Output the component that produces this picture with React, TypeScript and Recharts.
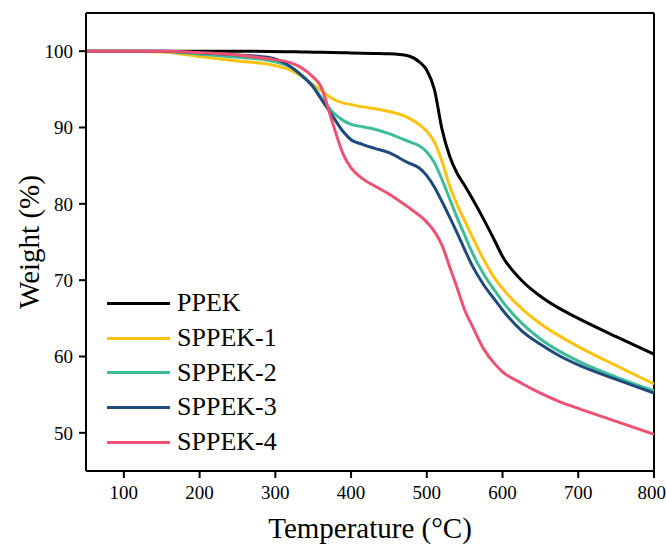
import { LineChart, Line, XAxis, YAxis, ReferenceLine } from "recharts";

const temps = [
  50, 100, 150, 200, 250, 290, 320, 335, 350, 360, 375, 390, 400, 415, 430, 450, 475,
  490, 500, 510, 520, 530, 540, 550, 560, 575, 590, 600, 625, 650, 675, 700, 750, 800,
];

const ppek = [
  100, 100, 100, 100, 100, 99.97, 99.93, 99.9, 99.87, 99.85, 99.82, 99.79, 99.77, 99.74,
  99.71, 99.66, 99.4, 98.6, 97.5, 95.0, 89.8, 86.3, 84.0, 82.4, 80.7, 78.0, 75.1, 73.1,
  70.0, 67.9, 66.3, 65.0, 62.6, 60.3,
];
const sppek1 = [
  100, 100, 99.9, 99.3, 98.7, 98.3, 97.5, 96.7, 95.6, 94.9, 93.8, 93.2, 93.0, 92.7, 92.5,
  92.1, 91.3, 90.4, 89.5, 88.1, 85.6, 82.4, 79.9, 77.8, 75.7, 72.7, 70.2, 68.9, 66.3,
  64.3, 62.7, 61.3, 58.8, 56.4,
];
const sppek2 = [
  100, 100, 99.95, 99.6, 99.2, 98.8, 97.9, 96.8, 95.4, 94.0, 92.1, 90.9, 90.4, 90.1, 89.8,
  89.2, 88.2, 87.6, 86.8, 85.4, 83.2, 80.7, 78.2, 75.9, 73.6, 70.8, 68.6, 67.2, 64.4,
  62.3, 60.7, 59.4, 57.3, 55.5,
];
const sppek3 = [
  100, 100, 100, 99.8, 99.5, 99.2, 98.0, 96.8, 95.3, 93.8, 91.6, 89.4, 88.4, 87.8, 87.3,
  86.7, 85.4, 84.7, 83.7, 82.2, 80.3, 78.3, 76.2, 74.0, 71.9, 69.4, 67.4, 66.1, 63.4,
  61.6, 60.1, 58.9, 57.0, 55.2,
];
const sppek4 = [
  100, 100, 100, 99.8, 99.5, 99.0, 98.5, 97.8, 96.6, 95.4, 90.8, 86.4, 84.7, 83.3, 82.4,
  81.3, 79.6, 78.5, 77.6, 76.4, 74.6, 71.8, 69.0, 66.1, 64.0, 61.0, 59.0, 58.0, 56.5,
  55.2, 54.1, 53.2, 51.5, 49.8,
];

const xTicks = [100, 200, 300, 400, 500, 600, 700, 800];
const yTicks = [50, 60, 70, 80, 90, 100];

const series = [
  { key: "PPEK", values: ppek, color: "#000000" },
  { key: "SPPEK-1", values: sppek1, color: "#FFC20E" },
  { key: "SPPEK-2", values: sppek2, color: "#3CBD98" },
  { key: "SPPEK-3", values: sppek3, color: "#1F4A7C" },
  { key: "SPPEK-4", values: sppek4, color: "#EF5173" },
];

const data = temps.map((t, i) => {
  const row: Record<string, number> = { t };
  series.forEach((s) => (row[s.key] = s.values[i]));
  return row;
});

const font = "'Liberation Serif', 'Times New Roman', serif";

function LegendBox() {
  return (
    <div style={{ position: "absolute", left: 107, top: 286, fontFamily: font }}>
      {series.map((s) => (
        <div
          key={s.key}
          style={{ display: "flex", alignItems: "center", height: 34.7 }}
        >
          <div style={{ width: 63, height: 3, background: s.color }} />
          <span style={{ marginLeft: 7, fontSize: 26, color: "#000", lineHeight: 1 }}>
            {s.key}
          </span>
        </div>
      ))}
    </div>
  );
}

export default function App() {
  const tickStyle = { fill: "#000", fontSize: 19, fontFamily: font };
  const frame = { stroke: "#000", strokeWidth: 2 };
  return (
    <div
      style={{
        position: "absolute",
        left: 0,
        top: 0,
        width: 666,
        height: 545,
        background: "#fff",
      }}
    >
      <LineChart
        width={666}
        height={545}
        data={data}
        margin={{ top: 13, right: 12, bottom: 0, left: 0 }}
      >
        <XAxis
          dataKey="t"
          type="number"
          domain={[50, 800]}
          ticks={xTicks}
          height={74}
          tick={tickStyle}
          tickSize={7}
          tickMargin={8}
          axisLine={frame}
          tickLine={frame}
          label={{
            value: "Temperature (°C)",
            position: "insideBottom",
            offset: 7,
            style: { fill: "#000", fontSize: 29, fontFamily: font },
          }}
        />
        <YAxis
          type="number"
          domain={[45, 105]}
          ticks={yTicks}
          width={86}
          tick={tickStyle}
          tickSize={7}
          tickMargin={6}
          axisLine={frame}
          tickLine={frame}
          label={{
            value: "Weight (%)",
            angle: -90,
            position: "insideLeft",
            offset: 29,
            style: { fill: "#000", fontSize: 29, fontFamily: font, textAnchor: "middle" },
          }}
        />
        <ReferenceLine y={105} stroke="#000" strokeWidth={2} ifOverflow="visible" />
        <ReferenceLine x={800} stroke="#000" strokeWidth={2} ifOverflow="visible" />
        {series.map((s) => (
          <Line
            key={s.key}
            dataKey={s.key}
            type="monotone"
            stroke={s.color}
            strokeWidth={3}
            dot={false}
            activeDot={false}
            isAnimationActive={false}
          />
        ))}
      </LineChart>
      <LegendBox />
    </div>
  );
}
